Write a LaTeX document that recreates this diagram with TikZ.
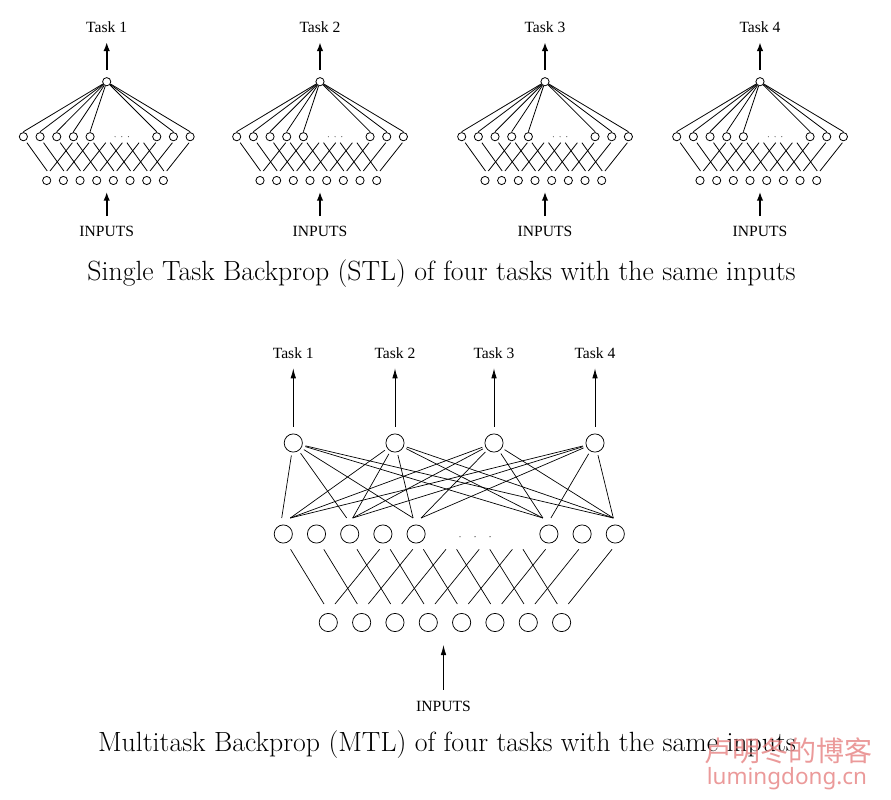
\documentclass[tikz,border=0pt]{standalone}
\usepackage{fontspec}
\newfontfamily\timesf{Liberation Serif}
\newfontfamily\cjkf{Noto Sans CJK SC}
\newfontfamily\wmsans{Noto Sans}
\usetikzlibrary{arrows.meta,calc}
\definecolor{wm}{RGB}{228,120,120}
\begin{document}
\begin{tikzpicture}[x=1pt,y=-1pt,
  snode/.style={circle,draw,line width=0.8pt,minimum size=8.2pt,inner sep=0pt},
  mnode/.style={circle,draw,line width=0.75pt,minimum size=18.2pt,inner sep=0pt},
  sline/.style={line width=0.8pt},
  mline/.style={line width=0.7pt},
  sarrow/.style={line width=1.8pt,-{Latex[length=9pt,width=6.5pt]}},
  marrow/.style={line width=0.8pt,-{Latex[length=10pt,width=5.5pt]}},
  lbl/.style={font=\timesf\fontsize{15.6}{17}\selectfont,inner sep=0pt,anchor=base},
  inlbl/.style={font=\timesf\fontsize{15.6}{17}\selectfont,inner sep=0pt,anchor=base},
  captext/.style={font=\fontsize{27.8}{32}\selectfont,inner sep=0pt,anchor=base},
  dotm/.style={fill=black!75,draw=none}]
\useasboundingbox (0,0) rectangle (891,800);
% ---------------- STL networks ----------------
\foreach \n/\cx in {1/106.7,2/320,3/545,4/760}{
  \node[snode] (s\n-t) at (\cx,81.7) {};
  \foreach \k in {0,1,2,3,4,8,9,10}{
    \node[snode] (s\n-h\k) at ({\cx-83.3+16.67*\k},136.7) {};
  }
  \foreach \k in {5,6,7}{
    \coordinate (s\n-h\k) at ({\cx-83.3+16.67*\k},136.7);
  }
  \foreach \j in {0,...,7}{
    \node[snode] (s\n-i\j) at ({\cx-60+16.67*\j},180.5) {};
  }
  \foreach \d in {8.3,15,21.7}{
    \fill[dotm] ($(s\n-h5)+(\d,0)$) circle (0.55);
  }
  \foreach \k in {0,1,2,3,4,8,9,10}{
    \draw[sline] (s\n-t) -- ($(s\n-h\k)+(0,-5)$);
  }
  \foreach \k in {0,...,7}{
    \draw[sline] ($(s\n-h\k)+(3.5,6)$) -- ($(s\n-i\k)+(0.5,-9.5)$);
  }
  \foreach \j in {0,...,7}{
    \pgfmathtruncatemacro{\kk}{\j+3}
    \draw[sline] ($(s\n-h\kk)+(-1,6)$) -- ($(s\n-i\j)+(3.3,-9.5)$);
  }
  \node[lbl] (s\n-task) at (\cx,33) {Task \n};
  \draw[sarrow,shorten <=7pt,shorten >=8.7pt] (s\n-t) -- (s\n-task);
  \node[inlbl] (s\n-inp) at (\cx,236) {INPUTS};
  \coordinate (s\n-ia) at (\cx,191.7);
  \draw[sarrow,shorten <=9.3pt] (s\n-inp) -- (s\n-ia);
}
\node[captext] (stlcap) at (441.5,280) {Single Task Backprop (STL) of four tasks with the same inputs};
% ---------------- MTL network ----------------
\foreach \m/\ox in {1/293.3,2/395,3/494,4/595}{
  \node[mnode] (m-o\m) at (\ox,443) {};
  \node[lbl] (m-task\m) at (\ox,358) {Task \m};
  \draw[marrow,shorten <=7pt,shorten >=10pt] (m-o\m) -- (m-task\m);
}
\foreach \k in {0,1,2,3,4,8,9,10}{
  \node[mnode] (m-h\k) at ({283.3+33.2*\k},534) {};
}
\foreach \k in {5,6,7}{
  \coordinate (m-h\k) at ({283.3+33.2*\k},534);
}
\foreach \j in {0,...,7}{
  \node[mnode] (m-i\j) at ({328.3+33.33*\j},622.5) {};
}
\foreach \x in {460,475,490}{
  \fill[dotm] (\x,536.7) circle (0.7);
}
\foreach \k/\d in {0/-1.6,2/-3,4/-3,8/-6,10/-2}{
  \draw[mline,shorten <=3pt] (m-o1) -- ($(m-h\k)+(\d,-16)$);
}
\foreach \k/\d in {0/7,2/3,4/-3,8/-6,10/-2}{
  \draw[mline,shorten <=3pt] (m-o2) -- ($(m-h\k)+(\d,-16)$);
}
\foreach \k/\d in {0/7,2/3,4/5,8/-6,10/-2}{
  \draw[mline,shorten <=3pt] (m-o3) -- ($(m-h\k)+(\d,-16)$);
}
\foreach \k/\d in {0/7,2/3,4/5,8/2,10/-2}{
  \draw[mline,shorten <=3pt] (m-o4) -- ($(m-h\k)+(\d,-16)$);
}
\foreach \k in {0,...,7}{
  \draw[mline] ($(m-h\k)+(7.3,15.3)$) -- ($(m-i\k)+(-4.3,-18.5)$);
}
\foreach \j in {0,...,7}{
  \pgfmathtruncatemacro{\kk}{\j+3}
  \draw[mline] ($(m-h\kk)+(-3.3,15.3)$) -- ($(m-i\j)+(6.7,-18.5)$);
}
\node[inlbl] (m-inp) at (443.5,711.7) {INPUTS};
\coordinate (m-ia) at (443.5,645);
\draw[marrow,shorten <=11.5pt] (m-inp) -- (m-ia);
\node[captext] (mtlcap) at (447,751) {Multitask Backprop (MTL) of four tasks with the same inputs};
% ---------------- watermark ----------------
\node[font=\cjkf\fontsize{28}{30}\selectfont,text=wm,opacity=0.75,inner sep=0pt] (wm1) at (788,751) {卢明冬的博客};
\node[font=\wmsans\fontsize{22.5}{26}\selectfont,text=wm,opacity=0.75,inner sep=0pt] (wm2) at (787,779) {lumingdong.cn};
\end{tikzpicture}
\end{document}
